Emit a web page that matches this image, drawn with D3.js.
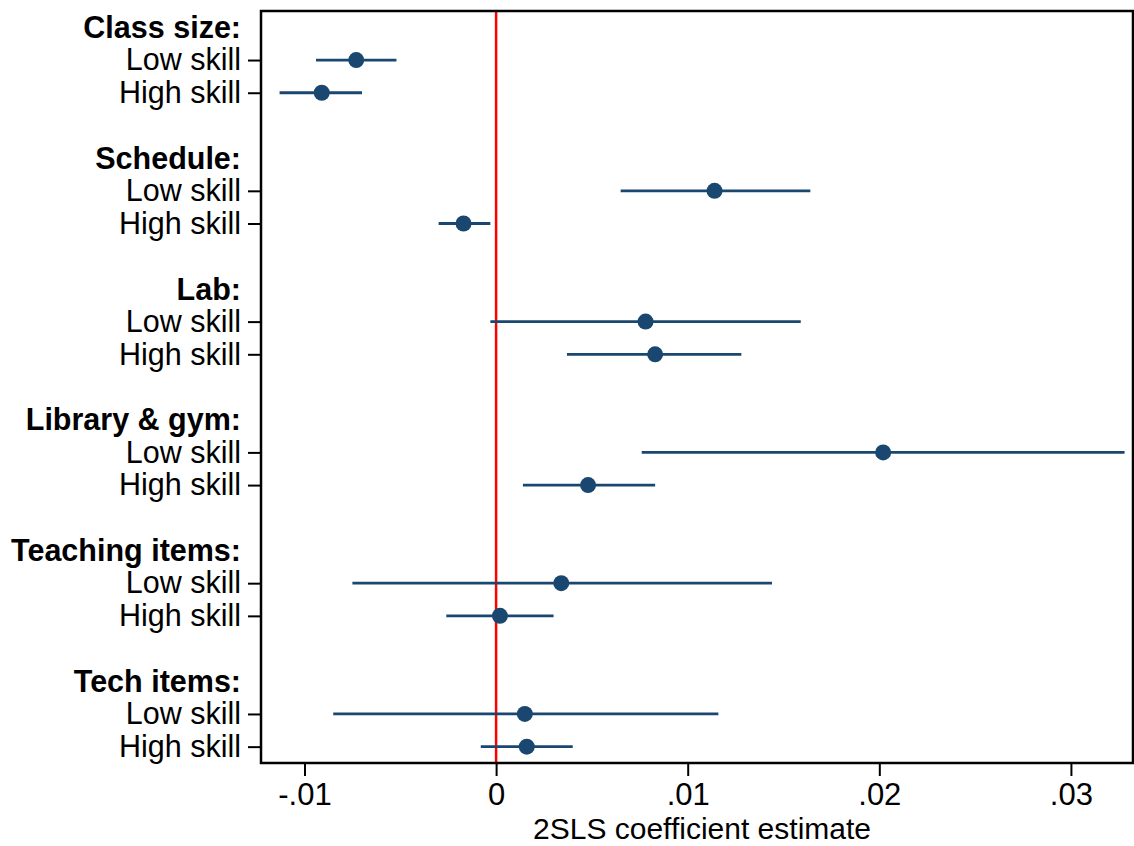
<!DOCTYPE html>
<html>
<head>
<meta charset="utf-8">
<script src="https://cdn.jsdelivr.net/npm/d3@7"></script>
<style>
  body { margin: 0; background: #fff; }
  text { font-family: "Liberation Sans", Arial, sans-serif; }
</style>
</head>
<body>
<svg width="1134" height="846"></svg>
<script>
// groups and the two skill rows under each
var groups = ["Class size:", "Schedule:", "Lab:", "Library & gym:", "Teaching items:", "Tech items:"];
var rows = ["Low skill", "High skill"];

// estimates and 95% bounds, in group order, low skill then high skill
var estimate = [-0.0073, -0.0091, 0.0114, -0.0017, 0.0078, 0.0083, 0.0202, 0.0048, 0.0034, 0.0002, 0.0015, 0.0016];
var lower    = [-0.0094, -0.0113, 0.0065, -0.0030, -0.0003, 0.0037, 0.0076, 0.0014, -0.0075, -0.0026, -0.0085, -0.0008];
var upper    = [-0.0052, -0.0070, 0.0164, -0.0003, 0.0159, 0.0128, 0.0328, 0.0083, 0.0144, 0.0030, 0.0116, 0.0040];

var xTicks = [-0.01, 0, 0.01, 0.02, 0.03];

var svg = d3.select("svg"),
    margin = {top: 11, right: 1, bottom: 83, left: 261},
    width = +svg.attr("width") - margin.left - margin.right,
    height = +svg.attr("height") - margin.top - margin.bottom,
    g = svg.append("g").attr("transform", "translate(" + margin.left + "," + margin.top + ")");

var navy = "#1a476f";

// each group takes 4 slots: header, low, high, gap
var points = [];
groups.forEach(function(grp, i) {
  rows.forEach(function(r, j) {
    var k = i * 2 + j;
    points.push({slot: i * 4 + 1 + j, label: r, est: estimate[k], lo: lower[k], hi: upper[k]});
  });
});
var nSlots = groups.length * 4 - 1;

var x = d3.scaleLinear().domain([-0.01227, 0.03324]).range([0, width]);
var y = d3.scaleLinear().domain([-0.5, nSlots - 0.5]).range([0, height]);

// x axis
var xAxis = g.append("g")
    .attr("transform", "translate(0," + height + ")")
    .call(d3.axisBottom(x).tickValues(xTicks).tickSize(13).tickPadding(7)
      .tickFormat(function(d) { return d === 0 ? "0" : d3.format(".2f")(d).replace("0.", ".").replace("\u2212", "-"); }));
xAxis.select(".domain").remove();
xAxis.selectAll("line").attr("stroke", "#000").attr("stroke-width", 2);
xAxis.selectAll("text").attr("font-size", 31).attr("fill", "#000");

// y ticks for skill rows
var yAxis = g.append("g")
    .call(d3.axisLeft(y).tickValues(points.map(function(d) { return d.slot; }))
      .tickSize(13).tickPadding(7)
      .tickFormat(function(d) { return points.find(function(p) { return p.slot === d; }).label; }));
yAxis.select(".domain").remove();
yAxis.selectAll("line").attr("stroke", "#000").attr("stroke-width", 2);
yAxis.selectAll("text").attr("font-size", 30.5).attr("fill", "#000");

// group headers
g.selectAll(".hdr")
  .data(groups)
  .enter().append("text")
    .attr("class", "hdr")
    .attr("x", -20)
    .attr("y", function(d, i) { return y(i * 4); })
    .attr("dy", "0.35em")
    .attr("text-anchor", "end")
    .attr("font-size", 30.5)
    .attr("font-weight", "bold")
    .text(function(d) { return d; });

// zero reference line
g.append("line")
  .attr("x1", x(0)).attr("x2", x(0))
  .attr("y1", 0).attr("y2", height)
  .attr("stroke", "#ff0000").attr("stroke-width", 2.5);

// confidence intervals
g.selectAll(".ci")
  .data(points)
  .enter().append("line")
    .attr("class", "ci")
    .attr("x1", function(d) { return x(d.lo); })
    .attr("x2", function(d) { return x(d.hi); })
    .attr("y1", function(d) { return y(d.slot); })
    .attr("y2", function(d) { return y(d.slot); })
    .attr("stroke", navy).attr("stroke-width", 2.8);

// point estimates
g.selectAll(".pt")
  .data(points)
  .enter().append("circle")
    .attr("class", "pt")
    .attr("cx", function(d) { return x(d.est); })
    .attr("cy", function(d) { return y(d.slot); })
    .attr("r", 8)
    .attr("fill", navy);

// frame
g.append("rect")
  .attr("width", width).attr("height", height)
  .attr("fill", "none").attr("stroke", "#000").attr("stroke-width", 2.5);

// x title
g.append("text")
  .attr("x", width / 2 + 5)
  .attr("y", height + 76)
  .attr("text-anchor", "middle")
  .attr("font-size", 30)
  .text("2SLS coefficient estimate");
</script>
</body>
</html>
